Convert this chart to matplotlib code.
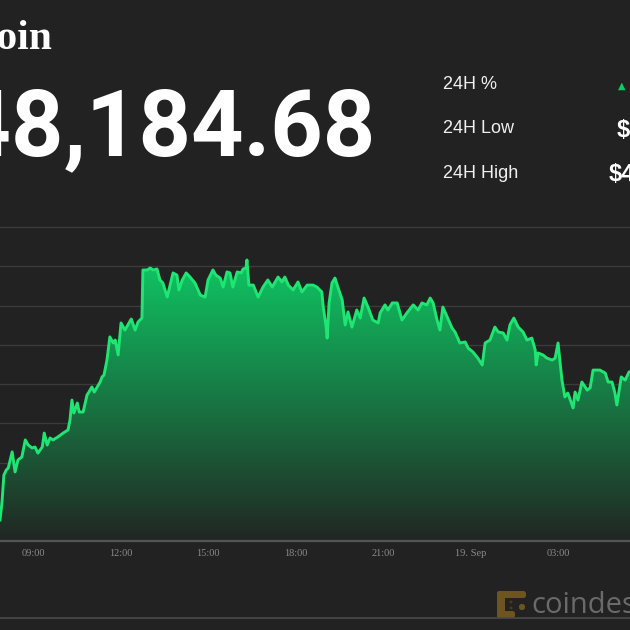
import numpy as np
import matplotlib
matplotlib.use('Agg')
import matplotlib.pyplot as plt
from matplotlib.path import Path
from matplotlib.patches import PathPatch, FancyBboxPatch, Circle
from matplotlib.lines import Line2D

# ---- data (minutes since 18 Sep 00:00, BTC price in USD) ----
minutes = [472, 476, 480, 485, 489, 497, 503, 509, 517, 524,
           530, 538, 544, 550, 559, 563, 569, 575, 581, 591,
           602, 612, 616, 620, 624, 631, 635, 643, 651, 655,
           661, 666, 672, 678, 682, 686, 692, 698, 705, 709,
           715, 721, 729, 742, 750, 756, 764, 766, 775, 781,
           787, 795, 801, 807, 816, 822, 828, 836, 840, 847,
           855, 863, 873, 884, 894, 900, 910, 916, 925, 931,
           939, 945, 951, 960, 968, 972, 978, 980, 984, 993,
           1003, 1013, 1023, 1032, 1044, 1052, 1058, 1065, 1075, 1085,
           1093, 1104, 1116, 1124, 1134, 1137, 1143, 1145, 1149, 1155,
           1161, 1167, 1176, 1182, 1188, 1196, 1206, 1213, 1221, 1229,
           1239, 1250, 1254, 1264, 1270, 1279, 1289, 1299, 1309, 1322,
           1332, 1340, 1350, 1357, 1363, 1371, 1377, 1383, 1392, 1402,
           1408, 1418, 1429, 1435, 1445, 1455, 1464, 1470, 1480, 1490,
           1497, 1507, 1515, 1521, 1529, 1538, 1548, 1556, 1566, 1573,
           1575, 1579, 1589, 1597, 1608, 1614, 1620, 1628, 1634, 1640,
           1651, 1655, 1661, 1669, 1680, 1686, 1692, 1706, 1717, 1723,
           1731, 1737, 1741, 1750, 1758, 1766, 1772]
prices = [47507, 47594, 47736, 47762, 47772, 47854, 47752, 47813, 47828, 47915,
          47889, 47874, 47879, 47848, 47879, 47950, 47889, 47925, 47915, 47930,
          47950, 47966, 48017, 48118, 48052, 48103, 48057, 48057, 48144, 48159,
          48185, 48159, 48185, 48210, 48236, 48246, 48322, 48440, 48409, 48424,
          48348, 48511, 48475, 48531, 48475, 48516, 48536, 48781, 48781, 48791,
          48781, 48786, 48730, 48715, 48643, 48704, 48766, 48755, 48679, 48730,
          48766, 48745, 48715, 48653, 48643, 48730, 48781, 48755, 48740, 48694,
          48771, 48766, 48694, 48771, 48766, 48786, 48791, 48832, 48704, 48704,
          48643, 48694, 48730, 48694, 48745, 48720, 48745, 48704, 48679, 48720,
          48669, 48704, 48704, 48694, 48669, 48592, 48490, 48434, 48613, 48715,
          48740, 48694, 48628, 48501, 48567, 48490, 48577, 48536, 48638, 48592,
          48526, 48511, 48562, 48603, 48577, 48613, 48613, 48526, 48562, 48603,
          48577, 48613, 48603, 48638, 48613, 48526, 48475, 48592, 48541, 48485,
          48465, 48409, 48414, 48383, 48363, 48332, 48297, 48409, 48424, 48490,
          48465, 48460, 48424, 48501, 48536, 48490, 48465, 48424, 48434, 48373,
          48297, 48358, 48348, 48332, 48322, 48332, 48409, 48220, 48134, 48154,
          48078, 48159, 48118, 48210, 48169, 48180, 48271, 48271, 48256, 48210,
          48210, 48154, 48093, 48236, 48220, 48261, 48265]

tick_minutes = [540, 720, 900, 1080, 1260, 1440, 1620]
tick_labels = ['09:00', '12:00', '15:00', '18:00', '21:00', '19. Sep', '03:00']
grid_prices = list(range(47400, 49001, 200))

coin_name = 'Bitcoin'
price_text = '$48,184.68'
stat_labels = ['24H %', '24H Low', '24H High']
stat_values = ['2.14%', '$47,035.29', '$48,843.32']

BG = '#222222'
W = H = 630.0
def fx(x): return x / W
def fy(y): return 1 - y / H

fig = plt.figure(figsize=(6.3, 6.3), dpi=100, facecolor=BG)
ax = fig.add_axes([0, fy(541), 1, (541 - 227) / H])
ax.set_facecolor(BG)

# gradient fill under the line
top_c = np.array([0.05, 0.85, 0.42])
bot_c = np.array([0.13, 0.15, 0.135])
t = np.linspace(0, 1, 256)[:, None]
cols = bot_c + (top_c - bot_c) * t
img = cols[:, None, :]
x0, x1 = min(minutes), max(minutes)
im = ax.imshow(img, extent=[x0, x1, grid_prices[0], grid_prices[-1]], origin='lower',
               aspect='auto', zorder=2, interpolation='bilinear')
verts = [(minutes[0], grid_prices[0])] + list(zip(minutes, prices)) + [(minutes[-1], grid_prices[0])]
patch = PathPatch(Path(verts), transform=ax.transData, fc='none', ec='none')
ax.add_patch(patch)
im.set_clip_path(patch)

for g in grid_prices[1:]:
    ax.axhline(g, color='#3b3b3b', lw=1.0, zorder=1, clip_on=False)
ax.axhline(grid_prices[0], color='#555555', lw=1.6, zorder=5, clip_on=False)

ax.plot(minutes, prices, color='#1fe673', lw=2.1, zorder=4, solid_joinstyle='round')

ax.set_xlim(472, 1768)
ax.set_ylim(grid_prices[0], grid_prices[-1])
for s in ax.spines.values():
    s.set_visible(False)
ax.set_yticks([])
ax.set_xticks(tick_minutes)
ax.set_xticklabels(tick_labels, fontfamily='Liberation Serif', fontsize=7.5, color='#8a8a8a')
ax.tick_params(axis='x', length=0, pad=6)

# header texts
fig.text(fx(52), fy(49), coin_name, ha='right', va='baseline', fontfamily='Liberation Serif',
         fontweight='bold', fontsize=30, color='white')
fig.text(fx(376), fy(155), price_text, ha='right', va='baseline', fontfamily='Roboto',
         fontweight='bold', fontsize=66, color='white')

label_base = [89, 133, 178]
for lab, b in zip(stat_labels, label_base):
    fig.text(fx(443), fy(b), lab, ha='left', va='baseline', fontfamily='Liberation Sans',
             fontsize=13, color='#f0f0f0')
fig.text(fx(618), fy(89), '\u25B2', ha='left', va='baseline', fontfamily='DejaVu Sans',
         fontsize=7, color='#00d060')
fig.text(fx(632), fy(90), stat_values[0], ha='left', va='baseline', fontfamily='Liberation Sans',
         fontweight='bold', fontsize=17, color='white')
fig.text(fx(617), fy(136), stat_values[1], ha='left', va='baseline', fontfamily='Liberation Sans',
         fontweight='bold', fontsize=17, color='white')
fig.text(fx(609), fy(181), stat_values[2], ha='left', va='baseline', fontfamily='Liberation Sans',
         fontweight='bold', fontsize=17, color='white')

# footer
fig.add_artist(Line2D([0, 1], [fy(618), fy(618)], transform=fig.transFigure, color='#4a4a4a', lw=1.2))
gold = '#6e5420'
def box(x, y, w, h):
    fig.add_artist(FancyBboxPatch((fx(x), fy(y + h)), w / W, h / H, boxstyle='round,pad=0,rounding_size=0.004',
                                  transform=fig.transFigure, fc=gold, ec='none'))
box(497, 591, 29, 7)
box(497, 591, 8, 27)
box(497, 611, 18, 7)
box(519, 604, 6, 6)
for cx, cy in [(511, 602), (511, 608)]:
    fig.add_artist(Circle((fx(cx), fy(cy)), 1.5 / W, transform=fig.transFigure, fc='#4a3a18', ec='none'))
fig.text(fx(531), fy(613), 'coindesk', ha='left', va='baseline', fontfamily='Open Sans',
         fontsize=21, color='#6a6a6a')

fig.savefig('out.png', dpi=100, facecolor=BG)
